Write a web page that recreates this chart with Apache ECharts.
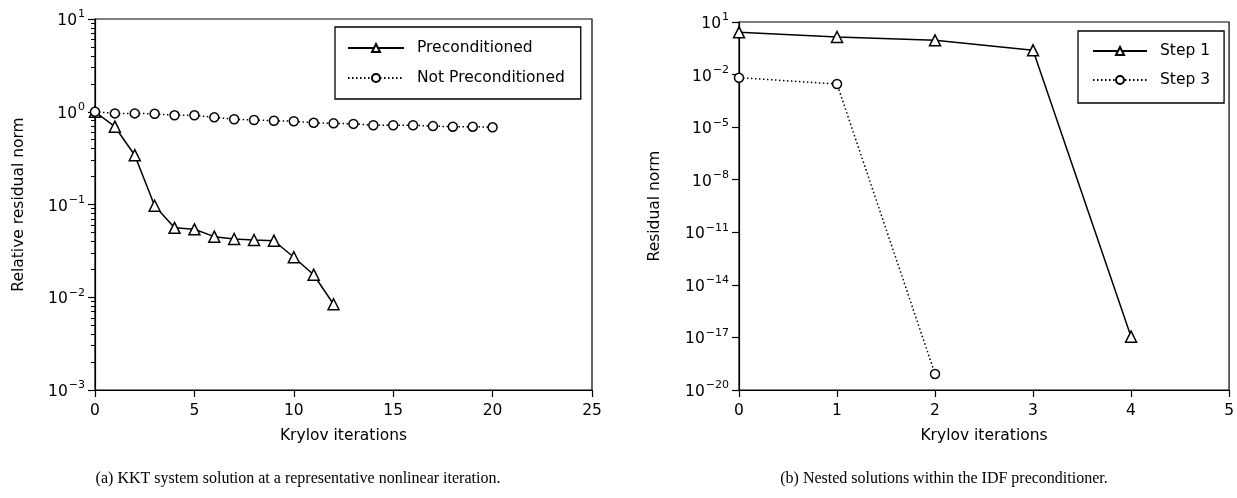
<!DOCTYPE html>
<html>
<head>
<meta charset="utf-8">
<script src="https://cdn.jsdelivr.net/npm/echarts@6/dist/echarts.min.js"></script>
<style>
  html, body { margin: 0; padding: 0; background: #fff; }
  #chart { width: 1237px; height: 498px; }
</style>
</head>
<body>
<div id="chart"></div>
<script>
// (a) KKT 系统
const iterA = [0, 1, 2, 3, 4, 5, 6, 7, 8, 9, 10, 11, 12, 13, 14, 15, 16, 17, 18, 19, 20];
const precond = [1.0, 0.69, 0.34, 0.097, 0.056, 0.054, 0.045, 0.0425, 0.0414, 0.0407, 0.027, 0.0175, 0.0084];
const notPrecond = [1.0, 0.96, 0.96, 0.95, 0.915, 0.915, 0.87, 0.83, 0.815, 0.80, 0.79, 0.76, 0.75, 0.74, 0.715, 0.715, 0.715, 0.70, 0.69, 0.69, 0.68];
const majorA = [1e-3, 1e-2, 1e-1, 1, 10];
const minorA = [2e-3, 3e-3, 4e-3, 5e-3, 6e-3, 7e-3, 8e-3, 9e-3,
                2e-2, 3e-2, 4e-2, 5e-2, 6e-2, 7e-2, 8e-2, 9e-2,
                0.2, 0.3, 0.4, 0.5, 0.6, 0.7, 0.8, 0.9,
                2, 3, 4, 5, 6, 7, 8, 9];

// (b) IDF 预条件
const iterB = [0, 1, 2, 3, 4];
const step1 = [2.58, 1.39, 0.90, 0.243, 1.1e-17];
const step3 = [0.0066, 0.0029, 8.2e-20];
const majorB = [1e-20, 1e-17, 1e-14, 1e-11, 1e-8, 1e-5, 1e-2, 10];

const captionA = '(a) KKT system solution at a representative nonlinear iteration.';
const captionB = '(b) Nested solutions within the IDF preconditioner.';

const FONT = 'DejaVu Sans';
const FS = 15.5;

const pairs = (xs, ys) => ys.map((v, i) => [xs[i], v]);

//指数标签 10^n
const powLabel = (v) => {
    const e = Math.round(Math.log10(v));
    return '{b|10}{s|' + String(e).replace('-', '\u2212') + '}';
};
const powRich = {
    b: { fontSize: FS, fontFamily: FONT, color: '#000', lineHeight: 20, verticalAlign: 'bottom' },
    s: { fontSize: 11, fontFamily: FONT, color: '#000', lineHeight: 20, verticalAlign: 'top', padding: [0, 0, 0, 1] }
};

const xAxisBase = (gridIndex, max, interval) => ({
    type: 'value',
    gridIndex,
    min: 0,
    max,
    interval,
    name: 'Krylov iterations',
    nameLocation: 'middle',
    nameGap: 38,
    nameTextStyle: { fontFamily: FONT, fontSize: FS, color: '#000' },
    axisLine: { show: true, lineStyle: { color: '#000', width: 1.2 } },
    axisTick: { show: true, inside: false, length: 7, lineStyle: { color: '#000', width: 1.2 } },
    axisLabel: { margin: 13, fontFamily: FONT, fontSize: FS, color: '#000' },
    splitLine: { show: false }
});

const yMajor = (gridIndex, min, max, values, name, nameGap) => ({
    type: 'log',
    logBase: 10,
    gridIndex,
    position: 'left',
    min,
    max,
    name,
    nameLocation: 'middle',
    nameGap,
    nameTextStyle: { fontFamily: FONT, fontSize: FS, color: '#000' },
    axisLine: { show: true, lineStyle: { color: '#000', width: 1.2 } },
    axisTick: { show: true, inside: false, length: 7, customValues: values, lineStyle: { color: '#000', width: 1.2 } },
    axisLabel: { margin: 10, customValues: values, formatter: powLabel, rich: powRich },
    splitLine: { show: false }
});

const lineSeries = (name, xi, yi, data, symbol, size, dash) => ({
    name,
    type: 'line',
    xAxisIndex: xi,
    yAxisIndex: yi,
    data,
    symbol,
    symbolSize: size,
    showAllSymbol: true,
    animation: false,
    lineStyle: { color: '#000', width: 1.5, type: dash },
    itemStyle: { color: '#fff', borderColor: '#000', borderWidth: 1.5 },
    emphasis: { disabled: true }
});

//图例 itemHeight 10 -> 图例符号 8px
const legendBase = (data, left, top, padding, itemGap, itemWidth) => ({
    data,
    orient: 'vertical',
    left,
    top,
    padding,
    itemGap,
    itemWidth,
    itemHeight: 10,
    selectedMode: false,
    borderColor: '#000',
    borderWidth: 1.3,
    backgroundColor: '#fff',
    textStyle: { fontFamily: FONT, fontSize: FS, color: '#000', padding: [0, 0, 0, 8] }
});

const chart = echarts.init(document.getElementById('chart'), null, { renderer: 'canvas' });
chart.setOption({
    animation: false,
    backgroundColor: '#fff',
    grid: [
        { left: 95, top: 19, width: 497, height: 371, show: true, borderColor: '#000', borderWidth: 1.2, containLabel: false },
        { left: 739, top: 22, width: 493, height: 368, show: true, borderColor: '#000', borderWidth: 1.2, containLabel: false }
    ],
    xAxis: [xAxisBase(0, 25, 5), xAxisBase(1, 5, 1)],
    yAxis: [
        yMajor(0, 1e-3, 10, majorA, 'Relative residual norm', 68),
        {   // 次刻度
            type: 'log', logBase: 10, gridIndex: 0, position: 'left', min: 1e-3, max: 10,
            axisLine: { show: false },
            axisTick: { show: true, inside: false, length: 4, customValues: minorA, lineStyle: { color: '#000', width: 1 } },
            axisLabel: { show: false },
            splitLine: { show: false }
        },
        yMajor(1, 1e-20, 10, majorB, 'Residual norm', 76)
    ],
    legend: [
        legendBase(['Preconditioned', 'Not Preconditioned'], 335, 27, [13, 16, 13, 12], 14, 56),
        legendBase(['Step 1', 'Step 3'], 1078, 31, [12, 14, 15, 14], 13, 54)
    ],
    series: [
        lineSeries('Preconditioned', 0, 0, pairs(iterA, precond), 'triangle', 11, 'solid'),
        lineSeries('Not Preconditioned', 0, 0, pairs(iterA, notPrecond), 'circle', 9, [1.5, 2.5]),
        lineSeries('Step 1', 1, 2, pairs(iterB, step1), 'triangle', 11, 'solid'),
        lineSeries('Step 3', 1, 2, pairs(iterB, step3), 'circle', 9, [1.5, 2.5])
    ],
    graphic: [
        { type: 'text', x: 298, y: 479, style: { text: captionA, fontFamily: 'Liberation Serif', fontSize: 16, fill: '#000', align: 'center', verticalAlign: 'middle' } },
        { type: 'text', x: 944, y: 479, style: { text: captionB, fontFamily: 'Liberation Serif', fontSize: 16, fill: '#000', align: 'center', verticalAlign: 'middle' } }
    ]
});
</script>
</body>
</html>
